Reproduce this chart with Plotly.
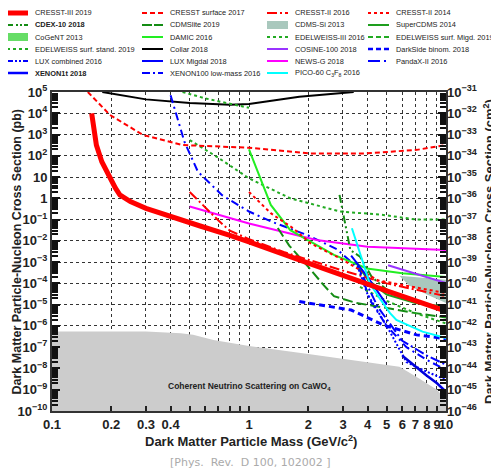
import plotly.graph_objects as go

# ---------------- data ----------------
cresst3_m = [0.159, 0.163, 0.168, 0.179, 0.188, 0.197, 0.21, 0.221, 0.25, 0.30, 0.41, 0.565, 0.8, 1.0, 2.0, 3.66, 5.0, 10.0]
cresst3_s = [1e4, 2e3, 320, 53, 20, 8.7, 3.0, 1.45, 0.7, 0.34, 0.14, 0.05, 0.018, 0.009, 9e-4, 1.2e-4, 4.5e-5, 5e-6]

cresst_surf_m = [0.152, 0.197, 0.29, 0.46, 1.0, 2.05, 3.96, 7.1, 10.0]
cresst_surf_s = [1e5, 8300, 950, 320, 240, 130, 130, 190, 320]

cresst2_16_m = [0.5, 0.6, 0.7, 0.8, 1.0, 1.5, 2.0, 3.0, 5.0, 10.0]
cresst2_16_s = [2.0, 0.35, 0.09, 0.03, 0.012, 3e-3, 1.3e-3, 4e-4, 1e-4, 2.5e-5]

cresst2_14_m = [1.0, 1.29, 1.67, 2.05, 2.9, 4.5, 10.0]
cresst2_14_s = [2.0, 0.2, 0.04, 7.7e-3, 1.5e-3, 1.4e-4, 3.5e-5]

cdex_m = [2.88, 3.0, 3.27, 3.66, 4.2, 5.0, 7.0, 10.0]
cdex_s = [1.45, 0.2, 3.7e-3, 1.8e-3, 2e-4, 5e-5, 1.5e-5, 6e-6]

cdmslite_m = [1.4, 1.6, 2.0, 2.4, 2.7, 3.5, 5.0, 7.0, 10.0]
cdmslite_s = [0.04, 6e-3, 6e-4, 8e-5, 2.5e-5, 1.2e-5, 7e-6, 4e-6, 2.5e-6]

cogent_m = [7.0, 9.0, 9.0, 7.0]
cogent_s = [1.5e-4, 1.3e-4, 4e-5, 7e-5]

cdmssi_m = [5.8, 7.0, 10.0, 10.0, 8.0, 6.5, 5.8]
cdmssi_s = [2.3e-4, 2.0e-4, 1.5e-4, 1.2e-5, 3e-5, 8e-5, 2.3e-4]

supercdms_m = [3.5, 4.0, 5.0, 7.0, 10.0]
supercdms_s = [1e-3, 1.5e-4, 3e-5, 1.2e-5, 8e-6]

damic_m = [1.0, 1.29, 1.62, 2.7, 3.97, 6.0, 10.0]
damic_s = [200, 0.49, 0.032, 2.2e-3, 5e-4, 3e-4, 2e-4]

edw3_m = [3.66, 5.0, 7.0, 10.0]
edw3_s = [6.8e-5, 1.5e-5, 4e-6, 1.3e-6]

edw_migd_m = [0.46, 0.6, 0.8, 1.0]
edw_migd_s = [1e5, 5e4, 2.8e4, 1.8e4]

edw_stand_m = [0.5, 0.7, 1.0, 1.62, 2.9, 4.7, 7.1, 10.0]
edw_stand_s = [550, 80, 8.7, 1.0, 0.24, 0.17, 0.1, 0.1]

collar_m = [0.18, 0.3, 0.5, 0.8, 1.0, 1.8, 3.4]
collar_s = [1e5, 4.5e4, 3e4, 2.5e4, 2.7e4, 6e4, 1e5]

cosine_m = [5.08, 7.0, 10.0]
cosine_s = [7.2e-4, 3e-4, 1.05e-4]

darkside_m = [1.8, 3.3, 4.8, 7.1, 10.0]
darkside_s = [1.4e-5, 5.6e-6, 1.1e-6, 3.8e-7, 2.5e-7]

lux_comb_m = [3.5, 4.0, 5.0, 6.3, 8.0, 10.0]
lux_comb_s = [1e-3, 3e-5, 1e-6, 2e-8, 7e-9, 2.9e-9]

lux_migd_m = [3.3, 4.0, 5.0]
lux_migd_s = [2e-3, 2e-4, 1e-5]

newsg_m = [0.5, 0.8, 1.0, 2.2, 4.0, 10.0]
newsg_s = [0.41, 0.115, 0.065, 0.011, 5.3e-3, 3.7e-3]

pandax_m = [3.8, 4.5, 6.0, 8.0, 10.0]
pandax_s = [2e-4, 8e-6, 2e-7, 4e-8, 1.5e-8]

xenon1t_m = [6.0, 7.0, 8.0, 9.0, 10.0]
xenon1t_s = [4e-8, 1.2e-8, 4.5e-9, 2e-9, 8e-10]

xenon100_m = [0.4, 0.47, 0.55, 0.73, 1.0, 1.3, 2.0, 2.8, 3.66, 4.1, 5.0, 6.3, 8.0, 10.0]
xenon100_s = [7e4, 460, 18, 1.4, 0.24, 0.08, 0.018, 4e-3, 4.3e-4, 1.7e-5, 1e-6, 1e-7, 2.5e-8, 8.5e-9]

pico_m = [3.33, 3.6, 4.1, 4.6, 5.2, 5.6, 7.6, 10.0]
pico_s = [0.039, 4e-3, 1e-4, 2e-5, 4e-6, 1.9e-6, 5.4e-7, 2.7e-7]

nu_m = [0.1, 0.2, 0.3, 0.45, 0.52, 0.66, 1.0, 2.0, 3.3, 5.8, 7.1, 9.0, 10.0]
nu_s = [5.4e-7, 5.4e-7, 5.4e-7, 4.5e-7, 3.8e-7, 2.2e-7, 1.15e-7, 4.8e-8, 2.5e-8, 1.2e-8, 4e-9, 1e-9, 3.3e-10]

x_tickvals = [0.1, 0.2, 0.3, 0.4, 0.5, 0.6, 0.7, 0.8, 0.9, 1, 2, 3, 4, 5, 6, 7, 8, 9, 10]
x_ticktext = ["0.1", "0.2", "0.3", "0.4", "", "", "", "", "", "1", "2", "3", "4", "5", "6", "7", "8", "9", "10"]
y_exps = list(range(-10, 6))
y2_exps = list(range(-46, -30))

# ---------------- figure ----------------
# the page body adds an 8 px offset; figure size/margins compensate so the
# plot area lands at screen pixels x 52..446, y 92..411
OFF = 8
W, H = 499 - OFF, 472 - OFF
L, R, T, B = 52, 446, 92, 411           # screen pixels of the plot area
def px(x): return (x - L) / (R - L)
def py(y): return (B - y) / (B - T)

RED = "#ff0000"
GREEN = "#22aa22"
DKGREEN = "#148c14"
LIME = "#22ee22"
BLUE = "#0000ff"

fig = go.Figure()

def fill(m, s, color, name):
    fig.add_trace(go.Scatter(x=m, y=s, mode="lines", fill="toself", fillcolor=color,
                             line=dict(width=0, color=color), name=name, showlegend=False, hoverinfo="skip"))

def line(m, s, color, width, dash, name):
    fig.add_trace(go.Scatter(x=m, y=s, mode="lines", line=dict(color=color, width=width, dash=dash),
                             name=name, showlegend=False, hoverinfo="skip"))

fill(nu_m + [10.0, 0.1], nu_s + [1e-11, 1e-11], "#cccccc", "neutrino")
fill(cogent_m, cogent_s, "#66dd66", "CoGeNT 2013")
fill(cdmssi_m, cdmssi_s, "#a9c8bd", "CDMS-Si 2013")

line(collar_m, collar_s, "black", 2, "solid", "Collar 2018")
line(edw_migd_m, edw_migd_s, GREEN, 2, "dot", "EDELWEISS surf. Migd. 2019")
line(edw_stand_m, edw_stand_s, GREEN, 2, "dot", "EDELWEISS surf. stand. 2019")
line(cresst_surf_m, cresst_surf_s, RED, 2, "5px,3px", "CRESST surface 2017")
line(xenon100_m, xenon100_s, BLUE, 2, "8px,4px,2px,4px", "XENON100 low-mass 2016")
line(newsg_m, newsg_s, "#ff00ff", 2, "solid", "NEWS-G 2018")
line(damic_m, damic_s, LIME, 2, "solid", "DAMIC 2016")
line(cosine_m, cosine_s, "#9933ff", 2, "solid", "COSINE-100 2018")
line(cdex_m, cdex_s, DKGREEN, 2, "8px,3px,2px,3px,2px,3px", "CDEX-10 2018")
line(cdmslite_m, cdmslite_s, DKGREEN, 2, "10px,4px", "CDMSlite 2019")
line(supercdms_m, supercdms_s, "#1e9e1e", 2, "solid", "SuperCDMS 2014")
line(edw3_m, edw3_s, GREEN, 2, "dot", "EDELWEISS-III 2016")
line(cresst2_14_m, cresst2_14_s, RED, 2, "dot", "CRESST-II 2014")
line(cresst2_16_m, cresst2_16_s, RED, 2, "10px,3px,2px,3px", "CRESST-II 2016")
line(darkside_m, darkside_s, BLUE, 3, "6px,4px", "DarkSide binom. 2018")
line(lux_comb_m, lux_comb_s, BLUE, 2, "2px,2px", "LUX combined 2016")
line(lux_migd_m, lux_migd_s, BLUE, 2, "solid", "LUX Migdal 2018")
line(pandax_m, pandax_s, BLUE, 2, "10px,3px,2px,3px", "PandaX-II 2016")
line(xenon1t_m, xenon1t_s, "#0000dd", 2.5, "solid", "XENON1t 2018")
line(pico_m, pico_s, "#00ffff", 2, "solid", "PICO-60")
line(cresst3_m, cresst3_s, RED, 5, "solid", "CRESST-III 2019")

fig.add_trace(go.Scatter(x=[None], y=[None], yaxis="y2", showlegend=False, hoverinfo="skip"))

tickfont = dict(family="Liberation Sans, Arial, sans-serif", size=13, color="#222", weight="bold")

fig.update_layout(
    width=W, height=H,
    margin=dict(l=L - OFF, r=W - (R - OFF), t=T - OFF, b=H - (B - OFF), autoexpand=False),
    paper_bgcolor="white", plot_bgcolor="white",
    showlegend=False,
    xaxis=dict(type="log", range=[-1, 1], tickvals=x_tickvals, ticktext=x_ticktext, tickangle=0,
               ticks="inside", ticklen=5, tickwidth=1.5, tickcolor="#222", automargin=False,
               showgrid=True, gridcolor="#333", griddash="dot", gridwidth=1,
               showline=True, linecolor="#333", linewidth=2, mirror=True,
               tickfont=tickfont, zeroline=False),
    yaxis=dict(type="log", range=[-10, 5], automargin=False,
               tickvals=[10.0 ** e for e in y_exps],
               ticktext=[("10" if e == 1 else "1" if e == 0 else "10<sup>%s</sup>" % (str(e).replace("-", "\u2212")))
                         for e in y_exps],
               ticks="inside", ticklen=8, tickwidth=2, tickcolor="#111",
               minor=dict(tickvals=[k * 10.0 ** e for e in range(-10, 5) for k in range(2, 10)],
                          ticks="inside", ticklen=6, tickcolor="#111", showgrid=False),
               showgrid=True, gridcolor="#333", griddash="dot", gridwidth=1,
               showline=True, linecolor="#333", linewidth=2, mirror=True,
               tickfont=tickfont, zeroline=False),
    yaxis2=dict(type="log", range=[-46, -31], overlaying="y", side="right", automargin=False,
                tickvals=[10.0 ** e for e in y2_exps],
                ticktext=["10<sup>%s</sup>" % str(e).replace("-", "\u2212") for e in y2_exps],
                ticks="inside", ticklen=8, tickwidth=2, tickcolor="#111",
                minor=dict(tickvals=[k * 10.0 ** e for e in range(-46, -31) for k in range(2, 10)],
                           ticks="inside", ticklen=6, tickcolor="#111", showgrid=False),
                showgrid=False, showline=False, tickfont=tickfont, zeroline=False),
)

def note(x, y, text, font, angle=0, xanchor="center"):
    fig.add_annotation(x=px(x), y=py(y), xref="paper", yref="paper", showarrow=False,
                       xanchor=xanchor, yanchor="middle", textangle=angle, text=text, font=font)

titlefont = dict(family="Liberation Sans, Arial, sans-serif", size=13, color="#222", weight="bold")
note(251, 441, "Dark Matter Particle Mass (GeV/c<sup>2</sup>)", titlefont)
note(16.5, 252, "Dark Matter Particle-Nucleon Cross Section (pb)",
     dict(family="Liberation Sans, Arial, sans-serif", size=12.5, color="#222", weight="bold"), angle=-90)
note(489, 252, "Dark Matter Particle-Nucleon Cross Section (cm<sup>2</sup>)", titlefont, angle=-90)
note(250, 386, "Coherent Neutrino Scattering on CaWO<sub>4</sub>",
     dict(family="Liberation Sans, Arial, sans-serif", size=8.5, color="#222", weight="bold"))
note(250, 462, "[Phys.  Rev.  D 100, 102002 ]", dict(family="DejaVu Sans, sans-serif", size=11, color="#aaaaaa"))

# ---------------- manual legend ----------------
leg_names = [
    ["CRESST-III 2019", "CRESST surface 2017", "CRESST-II 2016", "CRESST-II 2014"],
    ["<b>CDEX-10 2018</b>", "CDMSlite 2019", "CDMS-Si 2013", "SuperCDMS 2014"],
    ["CoGeNT 2013", "DAMIC 2016", "EDELWEISS-III 2016", "EDELWEISS surf. Migd. 2019"],
    ["EDELWEISS surf. stand. 2019", "Collar 2018", "COSINE-100 2018", "DarkSide binom. 2018"],
    ["LUX combined 2016", "LUX Migdal 2018", "NEWS-G 2018", "PandaX-II 2016"],
    ["<b>XENON1t 2018</b>", "XENON100 low-mass 2016", "PICO-60 C<sub>3</sub>F<sub>8</sub> 2016", None],
]
leg_style = [
    [(RED, 5, "solid"), (RED, 2, "5px,3px"), (RED, 2, "10px,3px,2px,3px"), (RED, 2, "dot")],
    [(DKGREEN, 2, "6px,3px,2px,2px,2px,2px"), (DKGREEN, 2, "10px,2px"), ("fill", "#a9c8bd"), ("#1e9e1e", 2, "solid")],
    [("fill", "#66dd66"), (LIME, 2, "solid"), (GREEN, 2, "dot"), (GREEN, 2, "5px,3px")],
    [(GREEN, 2, "dot"), ("black", 2, "solid"), ("#9933ff", 2, "solid"), (BLUE, 2.5, "5px,3px")],
    [(BLUE, 2, "6px,2px,2px,2px,2px,2px"), (BLUE, 2, "solid"), ("#ff00ff", 2, "solid"), (BLUE, 2, "12px,4px,2px,4px")],
    [(BLUE, 2.5, "solid"), (BLUE, 2, "8px,3px,2px,3px"), ("#00ffff", 2, "solid"), None],
]
col_sym = [(7, 28), (142, 163), (267, 288), (368, 389)]
col_txt = [33, 168, 293, 394]
row_y = [13, 25, 37, 49, 61, 73]
legfont = dict(family="Liberation Sans, Arial, sans-serif", size=7.4, color="#222")
for r, ry in enumerate(row_y):
    for c in range(4):
        nm = leg_names[r][c]
        st = leg_style[r][c]
        if nm is None:
            continue
        x0, x1 = col_sym[c]
        if st[0] == "fill":
            fig.add_shape(type="rect", xref="paper", yref="paper", x0=px(x0), x1=px(x1),
                          y0=py(ry + 4), y1=py(ry - 4), fillcolor=st[1], line=dict(width=0))
        else:
            fig.add_shape(type="line", xref="paper", yref="paper", x0=px(x0), x1=px(x1),
                          y0=py(ry), y1=py(ry), line=dict(color=st[0], width=st[1], dash=st[2]))
        note(col_txt[c], ry, nm, legfont, xanchor="left")

fig.write_html("out.html")
